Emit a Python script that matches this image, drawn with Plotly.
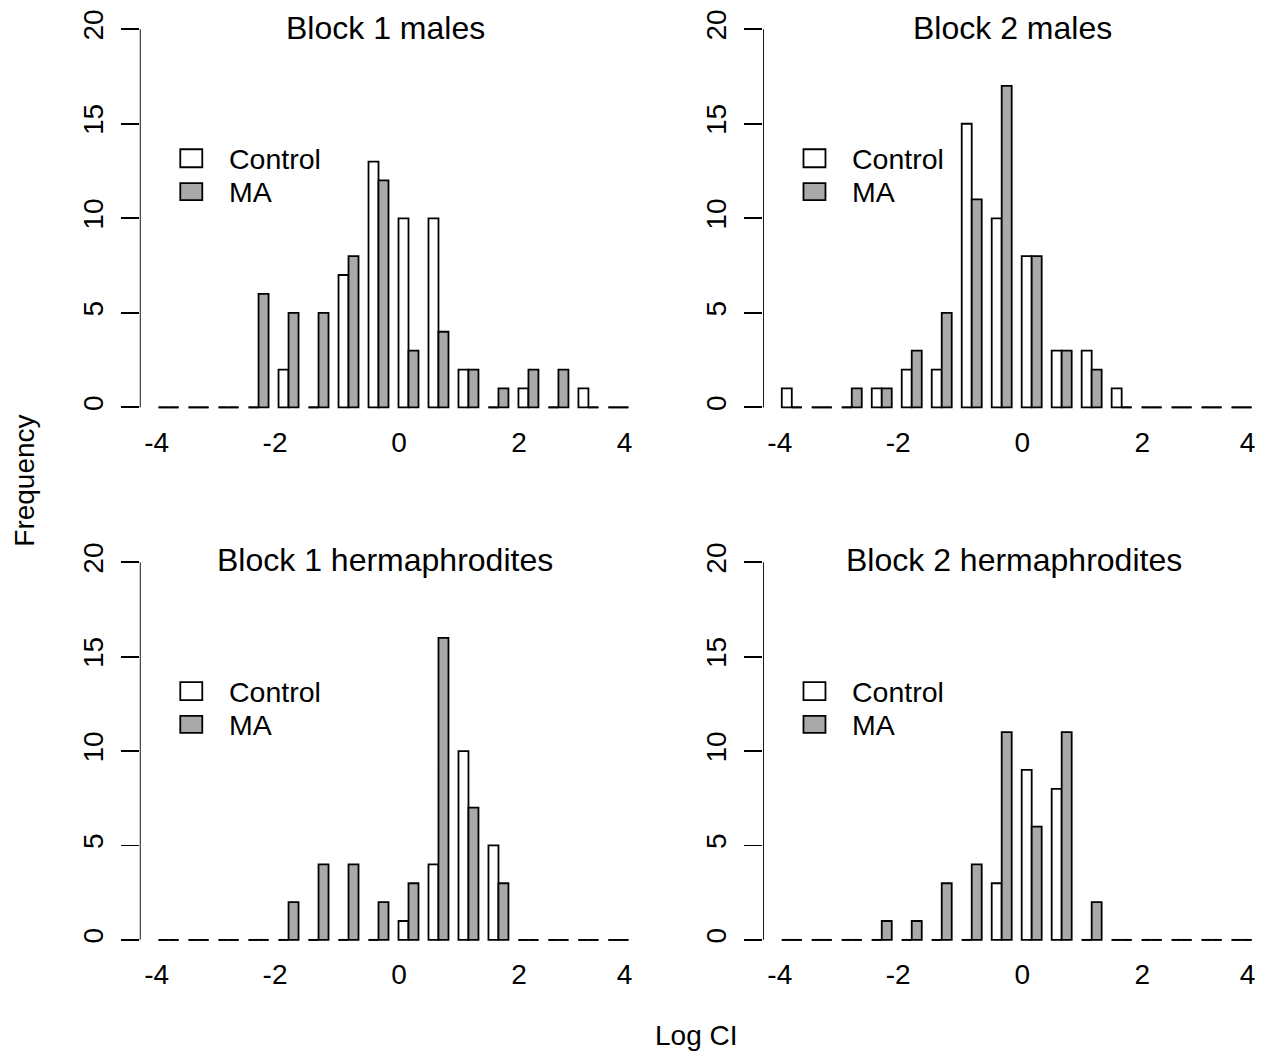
import plotly.graph_objects as go

# ---------------- data ----------------
bin_starts = [-4.0, -3.5, -3.0, -2.5, -2.0, -1.5, -1.0, -0.5,
              0.0, 0.5, 1.0, 1.5, 2.0, 2.5, 3.0, 3.5]
x_tick_text = ["-4", "-2", "0", "2", "4"]
y_tick_vals = [0, 5, 10, 15, 20]

titles = ["Block 1 males", "Block 2 males",
          "Block 1 hermaphrodites", "Block 2 hermaphrodites"]

b1_males_control = [0, 0, 0, 0, 2, 0, 7, 13, 10, 10, 2, 0, 1, 0, 1, 0]
b1_males_ma      = [0, 0, 0, 6, 5, 5, 8, 12, 3, 4, 2, 1, 2, 2, 0, 0]
b2_males_control = [1, 0, 0, 1, 2, 2, 15, 10, 8, 3, 3, 1, 0, 0, 0, 0]
b2_males_ma      = [0, 0, 1, 1, 3, 5, 11, 17, 8, 3, 2, 0, 0, 0, 0, 0]
b1_herm_control  = [0, 0, 0, 0, 0, 0, 0, 0, 1, 4, 10, 5, 0, 0, 0, 0]
b1_herm_ma       = [0, 0, 0, 0, 2, 4, 4, 2, 3, 16, 7, 3, 0, 0, 0, 0]
b2_herm_control  = [0, 0, 0, 0, 0, 0, 0, 3, 9, 8, 0, 0, 0, 0, 0, 0]
b2_herm_ma       = [0, 0, 0, 1, 1, 3, 4, 11, 6, 11, 2, 0, 0, 0, 0, 0]

series_names = ["Control", "MA"]

panels = [
    (b1_males_control, b1_males_ma),
    (b2_males_control, b2_males_ma),
    (b1_herm_control, b1_herm_ma),
    (b2_herm_control, b2_herm_ma),
]

# ---------------- style / layout ----------------
W, H = 1266, 1052
FONT = "Liberation Sans, Arial, Helvetica, sans-serif"
GRAY = "#A9A9A9"
LW = 1.8
PXU = 9.996  # pixels per bar unit

# panel pixel geometry: (left of plot region, top, bottom)
geo = [
    (139.8, 9.1, 419.5),
    (763.0, 9.1, 419.5),
    (139.8, 544.8, 954.5),
    (763.0, 544.8, 954.5),
]
title_px = [(385.5, 23), (1012.5, 23), (384.5, 558), (1013.5, 558)]

fig = go.Figure()
layout = dict(
    width=W, height=H,
    margin=dict(l=0, r=0, t=0, b=0),
    paper_bgcolor="white", plot_bgcolor="white",
    showlegend=False, hovermode=False,
    font=dict(family=FONT, color="black", size=28),
)
shapes = []
annotations = []

n = len(bin_starts)
for k, (ctrl, ma) in enumerate(panels):
    sx = "" if k == 0 else str(k + 1)
    xa, ya = "x" + sx, "y" + sx
    left, top, bottom = geo[k]
    right = min(W, left + 50.76 * PXU)
    xmax = -0.88 + (right - left) / PXU

    # bars (R barplot beside=TRUE, space=c(0,1))
    xc = [3 * i + 1.5 for i in range(n)]
    xm = [3 * i + 2.5 for i in range(n)]
    fig.add_trace(go.Bar(x=xc, y=ctrl, width=1.0, xaxis=xa, yaxis=ya,
                         name=series_names[0],
                         marker=dict(color="white", line=dict(color="black", width=LW))))
    fig.add_trace(go.Bar(x=xm, y=ma, width=1.0, xaxis=xa, yaxis=ya,
                         name=series_names[1],
                         marker=dict(color=GRAY, line=dict(color="black", width=LW))))
    # zero-height bars drawn as a flat line, as R does
    zx, zy = [], []
    for i in range(n):
        if ctrl[i] == 0:
            zx += [3 * i + 1, 3 * i + 2, None]
            zy += [0, 0, None]
        if ma[i] == 0:
            zx += [3 * i + 2, 3 * i + 3, None]
            zy += [0, 0, None]
    fig.add_trace(go.Scatter(x=zx, y=zy, mode="lines", xaxis=xa, yaxis=ya,
                             line=dict(color="black", width=LW), hoverinfo="skip"))

    layout["xaxis" + sx] = dict(
        domain=[left / W, right / W], range=[-0.88, xmax], anchor=ya,
        showgrid=False, zeroline=False, showline=False, ticks="",
        tickvals=[0.8, 12.65, 25.05, 37.07, 47.6], ticktext=x_tick_text,
        tickfont=dict(size=28, family=FONT, color="black"),
        ticklabelstandoff=0, fixedrange=True,
    )
    layout["yaxis" + sx] = dict(
        domain=[(H - bottom) / H, (H - top) / H], range=[-0.8, 20.8], anchor=xa,
        showgrid=False, zeroline=False, showline=False,
        ticks="outside", ticklen=18, tickwidth=LW, tickcolor="black",
        tickvals=y_tick_vals, tickangle=-90,
        tickfont=dict(size=28, family=FONT, color="black"),
        ticklabelstandoff=7, fixedrange=True,
    )
    # y axis line from 0 to 20 only
    shapes.append(dict(type="line", xref=xa, yref=ya, x0=-0.88, x1=-0.88,
                       y0=0, y1=20, line=dict(color="black", width=LW)))
    # legend boxes
    shapes.append(dict(type="rect", xref=xa, yref=ya, x0=3.17, x1=5.37,
                       y0=12.7, y1=13.65, fillcolor="white",
                       line=dict(color="black", width=LW)))
    shapes.append(dict(type="rect", xref=xa, yref=ya, x0=3.17, x1=5.37,
                       y0=10.96, y1=11.86, fillcolor=GRAY,
                       line=dict(color="black", width=LW)))
    annotations.append(dict(text=series_names[0], xref=xa, yref=ya, x=7.85, y=13.15,
                            xanchor="left", yanchor="middle", showarrow=False,
                            font=dict(size=28.5, family=FONT, color="black")))
    annotations.append(dict(text=series_names[1], xref=xa, yref=ya, x=7.85, y=11.4,
                            xanchor="left", yanchor="middle", showarrow=False,
                            font=dict(size=28.5, family=FONT, color="black")))
    tx, ty = title_px[k]
    annotations.append(dict(text=titles[k], xref="paper", yref="paper",
                            x=tx / W, y=1 - ty / H, xanchor="center", yanchor="middle",
                            showarrow=False,
                            font=dict(size=32, family=FONT, color="black")))

annotations.append(dict(text="Frequency", xref="paper", yref="paper",
                        x=25 / W, y=1 - 478 / H, textangle=-90,
                        xanchor="center", yanchor="middle", showarrow=False,
                        font=dict(size=28, family=FONT, color="black")))
annotations.append(dict(text="Log CI", xref="paper", yref="paper",
                        x=696 / W, y=1 - 1035 / H,
                        xanchor="center", yanchor="middle", showarrow=False,
                        font=dict(size=28, family=FONT, color="black")))

layout["shapes"] = shapes
layout["annotations"] = annotations
layout["barmode"] = "overlay"
fig.update_layout(**layout)
fig.write_html(
    "out.html",
    config={"displayModeBar": False, "staticPlot": True},
    post_script="document.body.style.margin='0px';document.body.style.overflow='hidden';",
)
